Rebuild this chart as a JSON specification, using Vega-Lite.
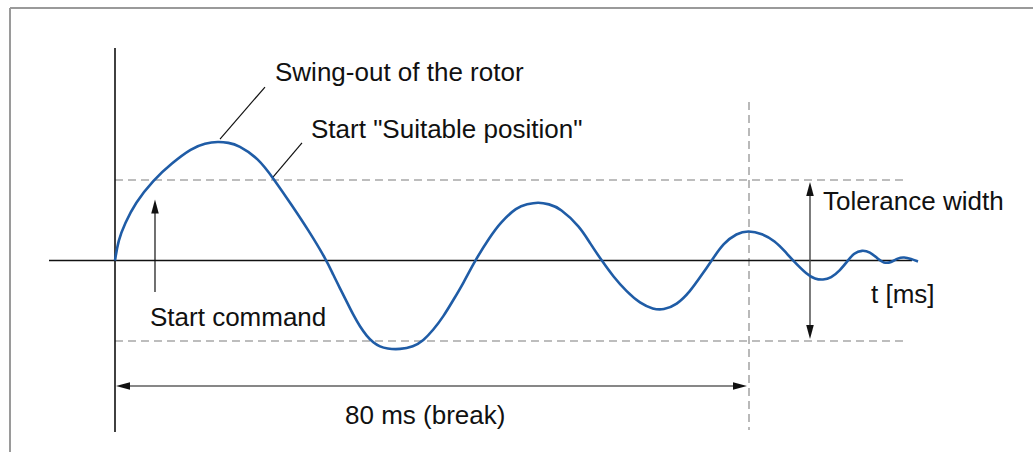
{
  "$schema": "https://vega.github.io/schema/vega-lite/v6.json",
  "width": 1033,
  "height": 452,
  "padding": 0,
  "autosize": "none",
  "background": "white",
  "config": {"view": {"stroke": null}},
  "datasets": {
    "curve": [
      {"t": 0, "a": 0}, {"t": 0.416, "a": 0.255}, {"t": 1.262, "a": 0.462}, {"t": 2.524, "a": 0.711},
      {"t": 4.833, "a": 1.0}, {"t": 7.155, "a": 1.207}, {"t": 9.678, "a": 1.394}, {"t": 11.356, "a": 1.456},
      {"t": 13.035, "a": 1.478}, {"t": 14.297, "a": 1.463}, {"t": 15.558, "a": 1.435}, {"t": 18.082, "a": 1.27},
      {"t": 19.975, "a": 1.021}, {"t": 22.297, "a": 0.689},
      {"t": 24.391, "a": 0.379}, {"t": 26.713, "a": 0}, {"t": 27.546, "a": -0.18}, {"t": 28.391, "a": -0.345},
      {"t": 29.237, "a": -0.512}, {"t": 30.069, "a": -0.677}, {"t": 30.915, "a": -0.822}, {"t": 31.76, "a": -0.938},
      {"t": 32.593, "a": -1.021}, {"t": 33.438, "a": -1.071}, {"t": 34.284, "a": -1.096}, {"t": 35.962, "a": -1.106},
      {"t": 37.641, "a": -1.071}, {"t": 38.902, "a": -0.996}, {"t": 40.164, "a": -0.863}, {"t": 41.426, "a": -0.698},
      {"t": 42.688, "a": -0.491}, {"t": 43.95, "a": -0.283}, {"t": 45.426, "a": 0}, {"t": 47.319, "a": 0.292},
      {"t": 48.58, "a": 0.466}, {"t": 50.726, "a": 0.665}, {"t": 51.987, "a": 0.699}, {"t": 53.375, "a": 0.727},
      {"t": 54.763, "a": 0.701}, {"t": 56.151, "a": 0.652},
      {"t": 58.675, "a": 0.42}, {"t": 59.937, "a": 0.214}, {"t": 61.413, "a": 0}, {"t": 62.877, "a": -0.201},
      {"t": 64.568, "a": -0.388}, {"t": 66.246, "a": -0.532}, {"t": 67.924, "a": -0.606}, {"t": 69.186, "a": -0.615},
      {"t": 70.877, "a": -0.553}, {"t": 72.555, "a": -0.388}, {"t": 74.032, "a": -0.18}, {"t": 75.293, "a": 0},
      {"t": 76.757, "a": 0.214}, {"t": 78.448, "a": 0.338}, {"t": 79.912, "a": 0.373}, {"t": 81.64, "a": 0.335},
      {"t": 83.281, "a": 0.242}, {"t": 84.543, "a": 0.112}, {"t": 85.552, "a": 0}, {"t": 87.319, "a": -0.174},
      {"t": 88.328, "a": -0.23}, {"t": 89.338, "a": -0.242}, {"t": 90.347, "a": -0.217}, {"t": 91.483, "a": -0.124},
      {"t": 92.492, "a": 0}, {"t": 93.249, "a": 0.093}, {"t": 94.259, "a": 0.13}, {"t": 95.268, "a": 0.106},
      {"t": 96.151, "a": 0.031}, {"t": 97.035, "a": -0.037}, {"t": 97.918, "a": -0.025}, {"t": 98.801, "a": 0.031},
      {"t": 99.558, "a": 0.043}, {"t": 100.442, "a": 0.019}, {"t": 101.325, "a": -0.012}
    ],
    "segments": [
      {"kind": "frame", "x1": -13.249, "y1": 3.137, "x2": -13.249, "y2": -2.379},
      {"kind": "frame", "x1": -13.249, "y1": 3.137, "x2": 115.836, "y2": 3.137},
      {"kind": "dashed", "x1": 0, "y1": 1, "x2": 100.063, "y2": 1},
      {"kind": "dashed", "x1": 0, "y1": -1, "x2": 100.063, "y2": -1},
      {"kind": "dashed", "x1": 80, "y1": 1.969, "x2": 80, "y2": -2.106},
      {"kind": "axis", "x1": 0, "y1": 2.64, "x2": 0, "y2": -2.13},
      {"kind": "axis", "x1": -8.328, "y1": 0, "x2": 100.568, "y2": 0},
      {"kind": "arrow", "x1": 5.047, "y1": -0.391, "x2": 5.047, "y2": 0.671},
      {"kind": "arrow", "x1": 1.009, "y1": -1.559, "x2": 78.864, "y2": -1.559},
      {"kind": "tolerance", "x1": 87.697, "y1": 0.888, "x2": 87.697, "y2": -0.888},
      {"kind": "leader", "x1": 13.249, "y1": 1.509, "x2": 18.927, "y2": 2.155},
      {"kind": "leader", "x1": 19.937, "y1": 1.037, "x2": 23.596, "y2": 1.46}
    ],
    "heads": [
      {"dir": "up", "arrow": "start", "x": 5.047, "y": 0.671},
      {"dir": "up", "arrow": "tolerance", "x": 87.697, "y": 0.888},
      {"dir": "down", "arrow": "tolerance", "x": 87.697, "y": -0.888},
      {"dir": "left", "arrow": "break", "x": 1.009, "y": -1.559},
      {"dir": "right", "arrow": "break", "x": 78.864, "y": -1.559}
    ],
    "labels": [
      {"label": "Swing-out of the rotor", "x": 20.189, "y": 2.23},
      {"label": "Start \"Suitable position\"", "x": 24.732, "y": 1.522},
      {"label": "Tolerance width", "x": 89.338, "y": 0.627},
      {"label": "t [ms]", "x": 95.394, "y": -0.528},
      {"label": "Start command", "x": 4.416, "y": -0.814},
      {"label": "80 ms (break)", "x": 29.022, "y": -2.031}
    ]
  },
  "layer": [
    {
      "data": {"name": "segments"},
      "transform": [{"filter": "datum.kind == 'frame'"}],
      "mark": {"type": "rule", "stroke": "#9a9a9a", "strokeWidth": 2},
      "encoding": {
        "x": {"field": "x1", "type": "quantitative", "scale": {"domain": [-14.511, 115.836], "nice": false, "zero": false}, "axis": null},
        "y": {"field": "y1", "type": "quantitative", "scale": {"domain": [-2.379, 3.236], "nice": false, "zero": false}, "axis": null},
        "x2": {"field": "x2"},
        "y2": {"field": "y2"}
      }
    },
    {
      "data": {"name": "segments"},
      "transform": [{"filter": "datum.kind == 'dashed'"}],
      "mark": {"type": "rule", "stroke": "#a8a8a8", "strokeWidth": 1.6, "strokeDash": [8, 5]},
      "encoding": {
        "x": {"field": "x1", "type": "quantitative", "axis": null},
        "y": {"field": "y1", "type": "quantitative", "axis": null},
        "x2": {"field": "x2"},
        "y2": {"field": "y2"}
      }
    },
    {
      "data": {"name": "segments"},
      "transform": [{"filter": "datum.kind == 'axis'"}],
      "mark": {"type": "rule", "stroke": "#111111", "strokeWidth": 1.6},
      "encoding": {
        "x": {"field": "x1", "type": "quantitative", "axis": null},
        "y": {"field": "y1", "type": "quantitative", "axis": null},
        "x2": {"field": "x2"},
        "y2": {"field": "y2"}
      }
    },
    {
      "data": {"name": "segments"},
      "transform": [{"filter": "datum.kind == 'arrow' || datum.kind == 'leader'"}],
      "mark": {"type": "rule", "stroke": "#111111", "strokeWidth": 1.2},
      "encoding": {
        "x": {"field": "x1", "type": "quantitative", "axis": null},
        "y": {"field": "y1", "type": "quantitative", "axis": null},
        "x2": {"field": "x2"},
        "y2": {"field": "y2"}
      }
    },
    {
      "data": {"name": "segments"},
      "transform": [{"filter": "datum.kind == 'tolerance'"}],
      "mark": {"type": "rule", "stroke": "#444444", "strokeWidth": 1.4},
      "encoding": {
        "x": {"field": "x1", "type": "quantitative", "axis": null},
        "y": {"field": "y1", "type": "quantitative", "axis": null},
        "x2": {"field": "x2"},
        "y2": {"field": "y2"}
      }
    },
    {
      "data": {"name": "curve"},
      "mark": {"type": "line", "interpolate": "basis", "stroke": "#1f5ca6", "strokeWidth": 2.6},
      "encoding": {
        "x": {"field": "t", "type": "quantitative", "axis": null},
        "y": {"field": "a", "type": "quantitative", "axis": null}
      }
    },
    {
      "data": {"name": "heads"},
      "transform": [{"filter": "datum.dir == 'up'"}],
      "mark": {"type": "point", "filled": true, "color": "#111111", "size": 196, "opacity": 1, "strokeWidth": 0},
      "encoding": {
        "x": {"field": "x", "type": "quantitative", "axis": null},
        "y": {"field": "y", "type": "quantitative", "axis": null},
        "shape": {"value": "M0,-1L0.54,1L-0.54,1Z"}
      }
    },
    {
      "data": {"name": "heads"},
      "transform": [{"filter": "datum.dir == 'down'"}],
      "mark": {"type": "point", "filled": true, "color": "#111111", "size": 196, "opacity": 1, "strokeWidth": 0},
      "encoding": {
        "x": {"field": "x", "type": "quantitative", "axis": null},
        "y": {"field": "y", "type": "quantitative", "axis": null},
        "shape": {"value": "M0,1L0.54,-1L-0.54,-1Z"}
      }
    },
    {
      "data": {"name": "heads"},
      "transform": [{"filter": "datum.dir == 'left'"}],
      "mark": {"type": "point", "filled": true, "color": "#111111", "size": 196, "opacity": 1, "strokeWidth": 0},
      "encoding": {
        "x": {"field": "x", "type": "quantitative", "axis": null},
        "y": {"field": "y", "type": "quantitative", "axis": null},
        "shape": {"value": "M-1,0L1,-0.54L1,0.54Z"}
      }
    },
    {
      "data": {"name": "heads"},
      "transform": [{"filter": "datum.dir == 'right'"}],
      "mark": {"type": "point", "filled": true, "color": "#111111", "size": 196, "opacity": 1, "strokeWidth": 0},
      "encoding": {
        "x": {"field": "x", "type": "quantitative", "axis": null},
        "y": {"field": "y", "type": "quantitative", "axis": null},
        "shape": {"value": "M1,0L-1,-0.54L-1,0.54Z"}
      }
    },
    {
      "data": {"name": "labels"},
      "mark": {"type": "text", "align": "left", "baseline": "alphabetic", "font": "Liberation Sans", "fontSize": 26, "fill": "#111111"},
      "encoding": {
        "x": {"field": "x", "type": "quantitative", "axis": null},
        "y": {"field": "y", "type": "quantitative", "axis": null},
        "text": {"field": "label"}
      }
    }
  ]
}
